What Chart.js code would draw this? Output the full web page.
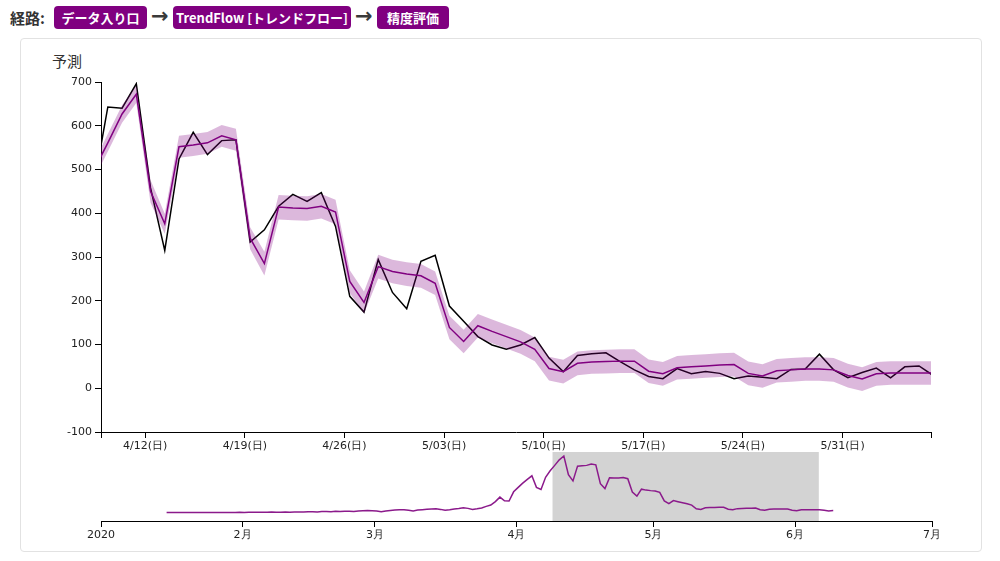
<!DOCTYPE html>
<html>
<head>
<meta charset="utf-8">
<script src="https://cdn.jsdelivr.net/npm/chart.js@4.4.1/dist/chart.umd.min.js"></script>
<style>
  body { margin:0; background:#fff; font-family:"Noto Sans CJK JP","Noto Sans",sans-serif; }
  .abs { position:absolute; }
  .pill { position:absolute; top:6px; height:23px; line-height:23px; background:#800080; color:#fff;
          border-radius:4px; font-size:13px; font-weight:bold; text-align:center; white-space:nowrap; }
  .arrow { position:absolute; top:4px; height:23px; line-height:25px; font-size:21px; font-weight:bold; color:#3a3a3a;
           font-family:"DejaVu Sans",sans-serif; }
  #card { position:absolute; left:20px; top:38px; width:962px; height:514px; box-sizing:border-box;
          border:1px solid #e2e2e2; border-radius:4px; }
  canvas { position:absolute; left:0; }
</style>
</head>
<body>
<div class="abs" style="left:10px;top:6px;height:23px;line-height:23px;font-size:15px;font-weight:bold;color:#333;">経路:</div>
<div class="pill" style="left:54px;width:93px;">データ入り口</div>
<div class="arrow" style="left:151px;">→</div>
<div class="pill" style="left:173px;width:178px;">TrendFlow [トレンドフロー]</div>
<div class="arrow" style="left:355px;">→</div>
<div class="pill" style="left:377px;width:72px;">精度評価</div>
<div id="card"></div>
<div class="abs" style="left:52px;top:50px;font-size:15px;color:#333;">予測</div>
<canvas id="main" width="1000" height="470" style="top:0;"></canvas>
<canvas id="mini" width="1000" height="110" style="top:440px;"></canvas>
<script>
// day index 0 = the data point just before the 4/12 tick
var actualStart = -3;
var actual = [460,643,640,696,458,315,524,585,534,566,568,334,362,416,443,427,447,370,210,174,294,219,182,290,304,
  188,153,118,99,89,99,116,69,38,75,79,81,61,42,27,22,45,33,38,34,22,28,25,22,43,44,78,42,24,36,46,24,49,51,29];

// prediction runs longer than the zoomed window (the overview shows it)
var predStart = -87;
var predicted = [
  0,0,0,1,0,1,1,0,1,2,0,1,1,2,1,2,
  3,2,4,3,5,3,4,6,5,4,7,5,6,8,6,9,
  10,8,12,14,11,15,13,17,16,14,19,21,
  24,22,18,11,20,26,31,35,
  35,28,20,30,35,40,44,46,
  38,27,33,43,48,58,50,37,
  45,55,74,90,130,184,140,137,
  247,300,350,395,437,300,275,420,
  497,561,627,672,450,376,552,556,561,577,568,343,285,414,412,411,416,403,244,196,278,267,261,257,240,
  139,107,143,130,118,106,89,45,38,57,60,61,62,62,39,33,47,49,51,53,54,34,28,40,42,44,44,42,29,21,33,35,35,35,35,
  28,20,25
];
var bandStart = -3;
var upper = [517,581,647,692,476,399,577,581,586,602,593,368,312,442,440,439,444,431,270,221,305,294,288,284,267,
  166,134,170,157,145,133,116,72,65,84,87,88,89,89,66,60,74,76,78,80,81,61,55,67,69,71,71,69,56,48,60,62,62,62,62];
var lower = [477,541,607,652,424,353,527,531,536,552,543,318,258,386,384,383,388,375,218,171,251,240,234,230,213,
  112,80,116,103,91,79,62,18,11,30,33,34,35,35,12,6,20,22,24,26,27,7,1,13,15,17,17,15,2,-6,6,8,8,8,8];

var pointShift = -0.63;          // data points sit a little before the day ticks
var weekTicks = [0,7,14,21,28,35,42,49];
var weekLabels = ['4/12(日)','4/19(日)','4/26(日)','5/03(日)','5/10(日)','5/17(日)','5/24(日)','5/31(日)'];
var viewMin = -3.11, viewMax = 55.21;
var jan1To0412 = 102;
var monthTicks = [0,31,60,91,121,152,182];
var monthLabels = ['2020','2月','3月','4月','5月','6月','7月'];

function toPoints(arr, start, shift) {
  return arr.map(function(v, k){ return {x: start + k + shift, y: v}; });
}

var axisFont = {family:'"DejaVu Sans", sans-serif', size:11};

new Chart(document.getElementById('main'), {
  type: 'line',
  data: {
    datasets: [
      {data: toPoints(lower, bandStart, pointShift), borderWidth:0, pointRadius:0, fill:false},
      {data: toPoints(upper, bandStart, pointShift), borderWidth:0, pointRadius:0, fill:'-1',
       backgroundColor:'rgba(128,0,128,0.28)'},
      {data: toPoints(predicted, predStart, pointShift), borderColor:'#800080', borderWidth:1.5, pointRadius:0, fill:false},
      {data: toPoints(actual, actualStart, pointShift), borderColor:'#000', borderWidth:1.5, pointRadius:0, fill:false}
    ]
  },
  options: {
    responsive:false, animation:false,
    layout:{padding:{left:0, right:69, top:82, bottom:0}},
    plugins:{legend:{display:false}, tooltip:{enabled:false}},
    scales:{
      x:{
        type:'linear', min:viewMin, max:viewMax,
        afterBuildTicks:function(s){
          s.ticks = [viewMin].concat(weekTicks, [viewMax]).map(function(v){ return {value:v}; });
        },
        afterFit:function(s){ s.height = 38; },
        ticks:{autoSkip:false, maxRotation:0, padding:2, color:'#222', font:axisFont,
          callback:function(v){ var i = weekTicks.indexOf(v); return i < 0 ? '' : weekLabels[i]; }},
        grid:{drawOnChartArea:false, drawTicks:true, tickLength:6, color:'#000'},
        border:{display:true, color:'#000', width:1}
      },
      y:{
        min:-100, max:700,
        afterFit:function(s){ s.width = 101; },
        ticks:{stepSize:100, padding:3, color:'#222', font:axisFont},
        grid:{drawOnChartArea:false, drawTicks:true, tickLength:6, color:'#000'},
        border:{display:true, color:'#000', width:1}
      }
    }
  }
});

var brushPlugin = {
  id:'brush',
  beforeDatasetsDraw:function(chart){
    var xs = chart.scales.x, a = chart.chartArea, ctx = chart.ctx;
    var x0 = xs.getPixelForValue(viewMin + jan1To0412), x1 = xs.getPixelForValue(viewMax + jan1To0412);
    ctx.save();
    ctx.fillStyle = '#d3d3d3';
    ctx.fillRect(x0, a.top, x1 - x0, a.bottom - a.top);
    ctx.restore();
  }
};

new Chart(document.getElementById('mini'), {
  type:'line',
  data:{datasets:[
    {data: toPoints(predicted, predStart + jan1To0412, pointShift), borderColor:'#8b1a8b', borderWidth:1.5, pointRadius:0, fill:false}
  ]},
  options:{
    responsive:false, animation:false,
    layout:{padding:{left:101, right:68, top:12, bottom:0}},
    plugins:{legend:{display:false}, tooltip:{enabled:false}},
    scales:{
      x:{
        type:'linear', min:0, max:182,
        afterBuildTicks:function(s){ s.ticks = monthTicks.map(function(v){ return {value:v}; }); },
        afterFit:function(s){ s.height = 29; },
        ticks:{autoSkip:false, maxRotation:0, padding:2, color:'#222', font:axisFont,
          callback:function(v){ return monthLabels[monthTicks.indexOf(v)]; }},
        grid:{drawOnChartArea:false, drawTicks:true, tickLength:6, color:'#000'},
        border:{display:true, color:'#000', width:1}
      },
      y:{display:false, min:-100, max:720}
    }
  },
  plugins:[brushPlugin]
});
</script>
</body>
</html>
